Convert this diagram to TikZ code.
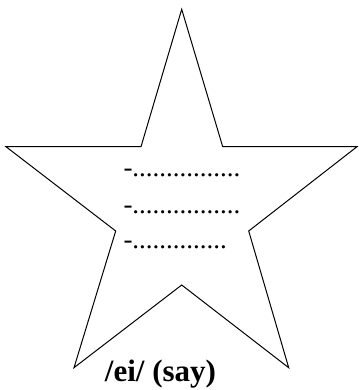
\documentclass[tikz,border=0pt]{standalone}
\usepackage{fontspec}
\setmainfont{Liberation Serif}

\begin{document}
\begin{tikzpicture}[x=1pt, y=-1pt, line width=1pt, line join=miter]
\tikzset{
  dotline/.style={anchor=base west, inner sep=0pt,
    font=\fontsize{27}{27}\selectfont},
  sound/.style={anchor=base, inner sep=0pt,
    font=\fontsize{31}{31}\selectfont\bfseries}
}
\useasboundingbox (0,0) rectangle (358,390);
%% star outline
\coordinate (top)     at (181.7,9.3);
\coordinate (innerUR) at (222.7,146.7);
\coordinate (tipR)    at (357.0,146.7);
\coordinate (innerLR) at (248.7,231);
\coordinate (tipBR)   at (288.7,367.7);
\coordinate (innerB)  at (181.7,285);
\coordinate (tipBL)   at (74,367.7);
\coordinate (innerLL) at (115.7,231);
\coordinate (tipL)    at (6,146.7);
\coordinate (innerUL) at (141,146.7);
\draw (top) -- (innerUR) -- (tipR) -- (innerLR) -- (tipBR) -- (innerB)
  -- (tipBL) -- (innerLL) -- (tipL) -- (innerUL) -- cycle;
%% lines to fill in
\node[dotline] (lineA) at (123,176.5) {-................};
\node[dotline] (lineB) at (123,213.5) {-................};
\node[dotline] (lineC) at (123,248.5) {-..............};
%% sound label
\node[sound] (say) at (160.5,381.5) {/ei/ (say)};
\end{tikzpicture}
\end{document}
